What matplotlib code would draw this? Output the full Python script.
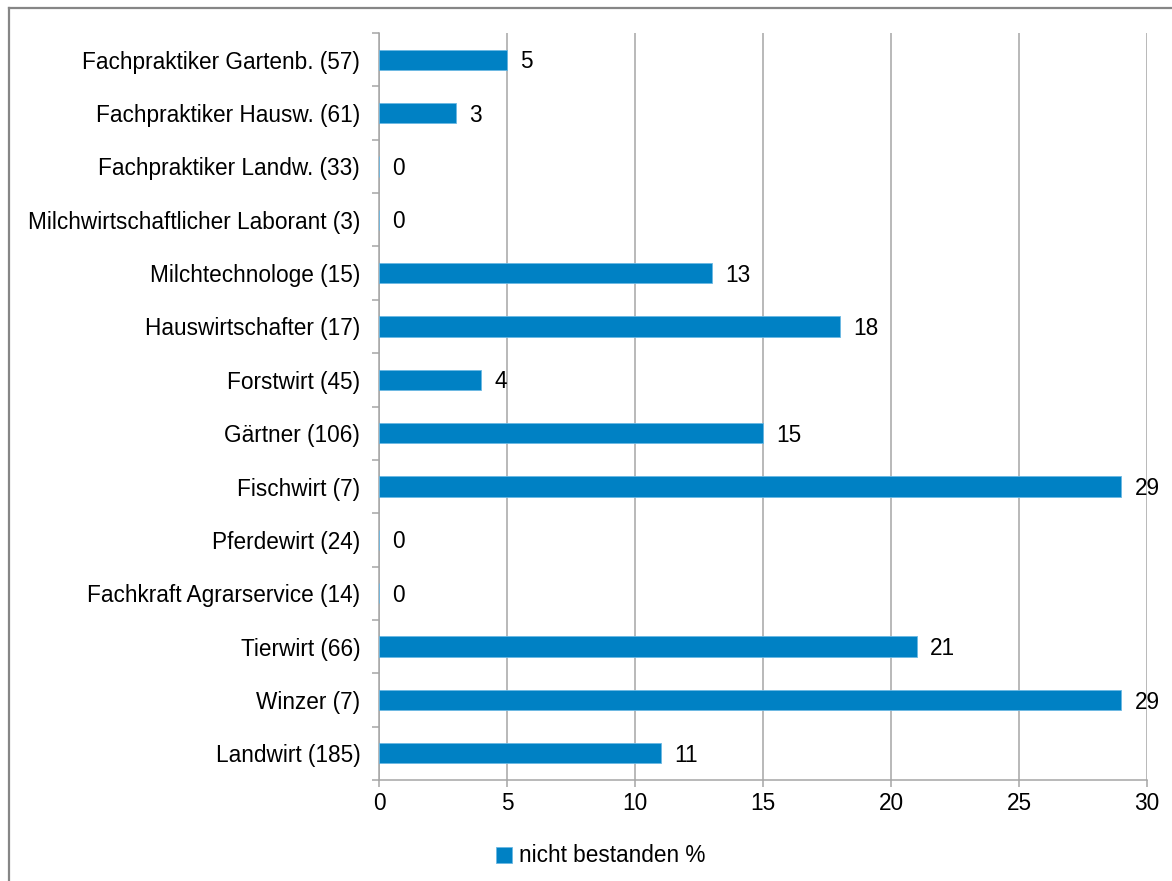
import matplotlib
matplotlib.use("Agg")
import matplotlib.pyplot as plt
from matplotlib.lines import Line2D
from matplotlib.patches import Patch
import numpy as np

plt.rcParams["font.family"] = ["Liberation Sans", "DejaVu Sans"]

# Berufe (Anzahl Prüflinge), von oben nach unten
categories = [
    "Fachpraktiker Gartenb. (57)",
    "Fachpraktiker Hausw. (61)",
    "Fachpraktiker Landw. (33)",
    "Milchwirtschaftlicher Laborant (3)",
    "Milchtechnologe (15)",
    "Hauswirtschafter (17)",
    "Forstwirt (45)",
    "Gärtner (106)",
    "Fischwirt (7)",
    "Pferdewirt (24)",
    "Fachkraft Agrarservice (14)",
    "Tierwirt (66)",
    "Winzer (7)",
    "Landwirt (185)",
]
failed_pct = [5, 3, 0, 0, 13, 18, 4, 15, 29, 0, 0, 21, 29, 11]
series_name = "nicht bestanden %"
x_ticks = [0, 5, 10, 15, 20, 25, 30]

W, H = 1172, 881
FS = 16.3
fig = plt.figure(figsize=(W / 100, H / 100), dpi=100)
ax = fig.add_axes([379 / W, 1 - 780 / H, (1147 - 379) / W, (780 - 33) / H])

bar_color = "#0081C4"
grid_color = "#A6A6A6"

y = np.arange(len(categories))
ax.barh(y, failed_pct, height=0.38, color=bar_color, edgecolor="#6BB8E3",
        linewidth=0.6, zorder=3, label=series_name)

for yi, v in zip(y, failed_pct):
    ax.annotate(str(v), xy=(v, yi), xytext=(9.5, -1.5), textcoords="offset points",
                ha="left", va="center", fontsize=FS, color="#000000",
                annotation_clip=False)

ax.set_ylim(len(categories) - 0.5, -0.5)
ax.set_xlim(0, 30)
ax.set_xticks(x_ticks)
ax.set_xticklabels([str(t) for t in x_ticks], fontsize=FS)
ax.set_yticks(y)
ax.set_yticklabels(categories, fontsize=FS)
ax.set_yticks(np.arange(len(categories) + 1) - 0.5, minor=True)

ax.tick_params(axis="y", which="major", length=0, pad=13.5)
ax.tick_params(axis="y", which="minor", length=5, width=1.1, color=grid_color, direction="out")
ax.tick_params(axis="x", which="major", length=5, width=1.1, color=grid_color, pad=4)

ax.xaxis.grid(True, color=grid_color, linewidth=1.1, zorder=0)
ax.set_axisbelow(True)
for side in ("top", "right"):
    ax.spines[side].set_visible(False)
for side in ("left", "bottom"):
    ax.spines[side].set_color(grid_color)
    ax.spines[side].set_linewidth(1.1)

handle = Patch(facecolor=bar_color, edgecolor="#6BB8E3", linewidth=0.6)
fig.legend([handle], [series_name], loc="center", bbox_to_anchor=(601 / W, 1 - 856 / H),
           frameon=False, fontsize=FS, handlelength=0.7, handleheight=0.7,
           handletextpad=0.3)

# Rahmen des Diagrammbereichs (oben und links)
border_kw = dict(color="#868686", linewidth=1.6, transform=fig.transFigure)
fig.add_artist(Line2D([9 / W, 9 / W], [0, 1 - 8 / H], **border_kw))
fig.add_artist(Line2D([9 / W, 1], [1 - 8 / H, 1 - 8 / H], **border_kw))

fig.savefig("out.png", dpi=100)
